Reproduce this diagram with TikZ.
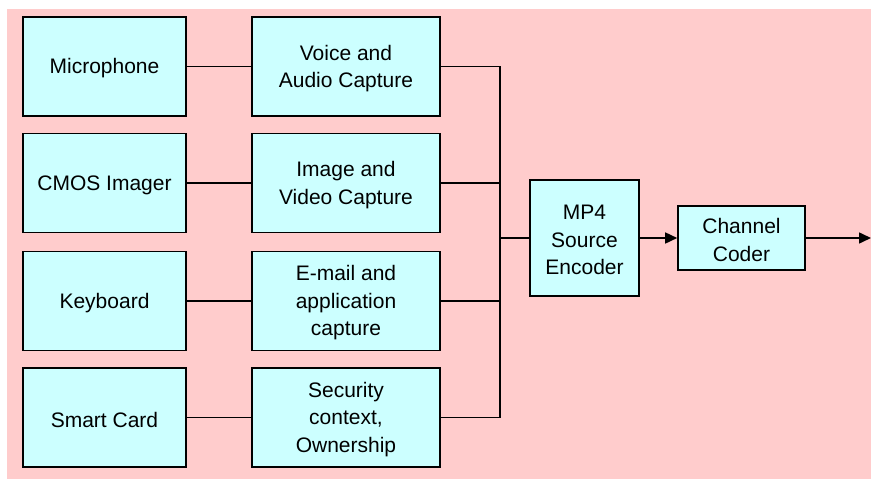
\documentclass[tikz,border=0pt]{standalone}
\usepackage{fontspec}
\setmainfont{Liberation Sans}
\usetikzlibrary{arrows.meta}
\definecolor{bgpink}{HTML}{FFCCCC}
\definecolor{boxcyan}{HTML}{CCFFFF}
\begin{document}
\begin{tikzpicture}[x=1pt,y=-1pt,
  txt/.style={inner sep=0pt, align=center, font=\fontsize{21}{27.5}\selectfont, yshift=-2pt},
  blk/.style={draw=black, line width=1.6pt, fill=boxcyan, rectangle, inner sep=0pt},
  srcbox/.style={blk, minimum width=163pt, minimum height=99pt},
  capbox/.style={blk, minimum width=188pt, minimum height=99pt},
  wire/.style={draw=black, line width=1.6pt},
  arr/.style={wire, -{Triangle[length=12pt,width=11pt]}}]
\useasboundingbox (0,0) rectangle (871,479);
\fill[white] (0,0) rectangle (871,479);
\fill[bgpink] (7,9) rectangle (871,479);

\node[srcbox, label={[txt]center:Microphone}] (s1) at (104.5,66.5) {};
\node[srcbox, label={[txt]center:CMOS Imager}] (s2) at (104.5,183) {};
\node[srcbox, label={[txt]center:Keyboard}] (s3) at (104.5,301) {};
\node[srcbox, label={[txt]center:Smart Card}] (s4) at (104.5,417.5) {};

\node[capbox, label={[txt]center:Voice and\\Audio Capture}] (c1) at (346,66.5) {};
\node[capbox, label={[txt]center:Image and\\Video Capture}] (c2) at (346,183) {};
\node[capbox, label={[txt]center:E-mail and\\application\\capture}] (c3) at (346,301) {};
\node[capbox, label={[txt]center:Security\\context,\\Ownership}] (c4) at (346,417.5) {};

\node[blk, minimum width=109pt, minimum height=116pt,
  label={[txt]center:MP4\\Source\\Encoder}] (mp4) at (584.5,238) {};
\node[blk, minimum width=127pt, minimum height=64pt,
  label={[txt]center:Channel\\Coder}] (cc) at (741.5,238) {};

\coordinate (btop) at (500,66.5);
\coordinate (bbot) at (500,417.5);
\coordinate (out) at (871,238);

\draw[wire] (s1) -- (c1);
\draw[wire] (s2) -- (c2);
\draw[wire] (s3) -- (c3);
\draw[wire] (s4) -- (c4);

\draw[wire] (c1.east) -- (btop) -- (bbot) -- (c4.east);
\draw[wire] (c2.east) -- (c2.east -| btop);
\draw[wire] (c3.east) -- (c3.east -| btop);
\draw[wire] (mp4.west -| btop) -- (mp4.west);

\draw[arr] (mp4.east) -- (cc.west);
\draw[arr] (cc.east) -- (out);
\end{tikzpicture}
\end{document}
